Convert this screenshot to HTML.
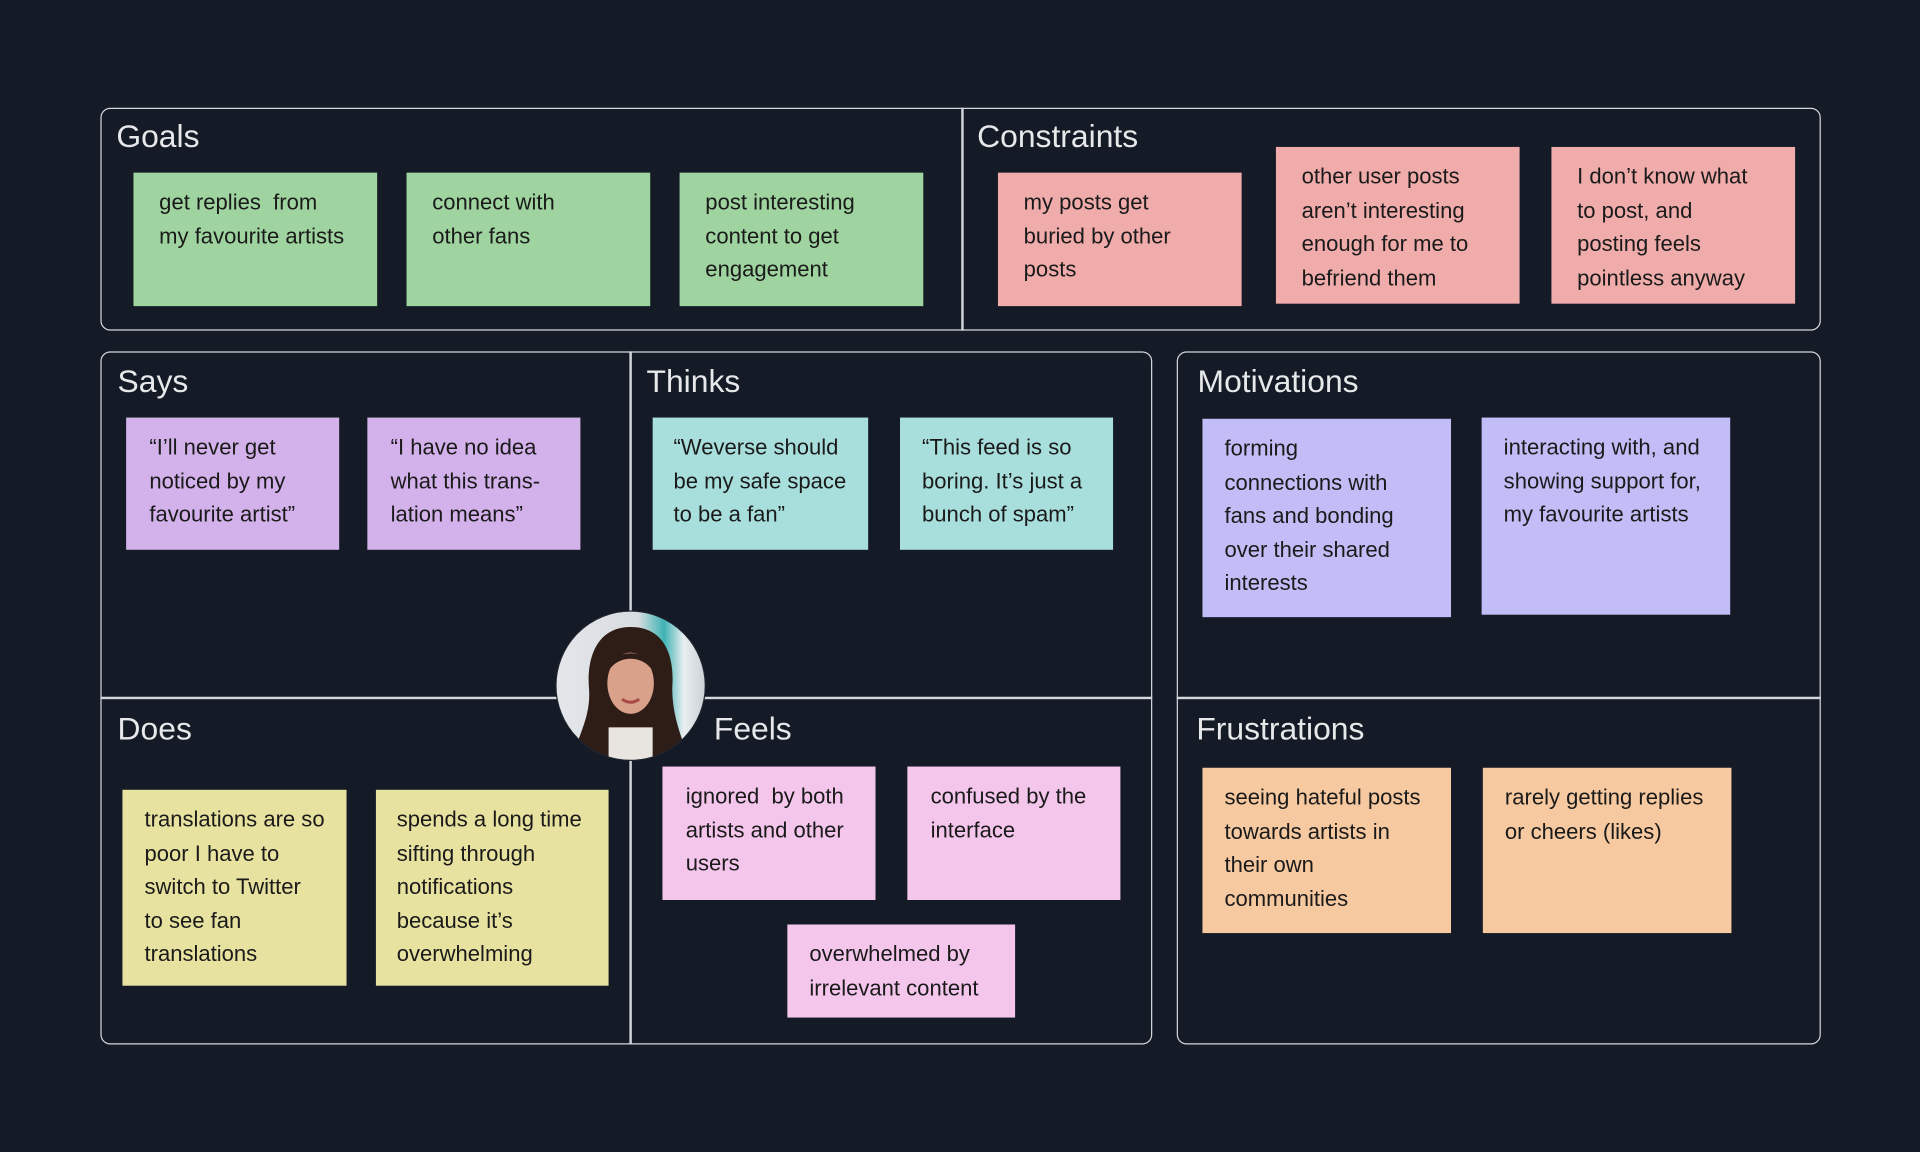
<!DOCTYPE html>
<html><head><meta charset="utf-8"><style>
html,body{margin:0;padding:0;background:#151b26;width:1920px;height:1152px;overflow:hidden}
#w{position:absolute;left:0;top:0;width:1568px;height:941px;transform:scale(1.22449);transform-origin:0 0;font-family:"Liberation Sans",sans-serif}
.b{position:absolute;border:1.5px solid #d3d6da;border-radius:8px;box-sizing:border-box}
.l{position:absolute;background:#d3d6da}
.t{position:absolute;color:#e6e8ea;font-size:26px;line-height:30px}
.s{position:absolute;box-sizing:border-box;padding:11px 0 0 19px;font-size:18px;line-height:27.5px;color:#1a1a1a;white-space:nowrap}
.g{background:#9fd4a0}.r{background:#f0acab}.p{background:#d3b1ea}.c{background:#a8dfdc}.v{background:#c2bdf7}.k{background:#f4c6ec}.y{background:#e8e2a0}.o{background:#f6c9a0}
</style></head><body><div id="w">
<div class="b" style="left:82px;top:88px;width:1405px;height:182px"></div>
<div class="l" style="left:785px;top:88px;width:1.5px;height:182px"></div>
<div class="b" style="left:82px;top:287px;width:859px;height:566px"></div>
<div class="l" style="left:514px;top:287px;width:1.5px;height:566px"></div>
<div class="l" style="left:82px;top:569px;width:859px;height:1.5px"></div>
<div class="b" style="left:961px;top:287px;width:526px;height:566px"></div>
<div class="l" style="left:961px;top:569px;width:526px;height:1.5px"></div>

<div class="t" style="left:95px;top:96px">Goals</div>
<div class="t" style="left:798px;top:96px">Constraints</div>
<div class="t" style="left:96px;top:296px">Says</div>
<div class="t" style="left:528px;top:296px">Thinks</div>
<div class="t" style="left:978px;top:296px">Motivations</div>
<div class="t" style="left:96px;top:580px">Does</div>
<div class="t" style="left:583px;top:580px">Feels</div>
<div class="t" style="left:977px;top:580px">Frustrations</div>

<div class="s g" style="left:109px;top:141px;width:199px;height:109px;padding-left:21px">get replies&nbsp; from<br>my favourite artists</div>
<div class="s g" style="left:332px;top:141px;width:199px;height:109px;padding-left:21px">connect with<br>other fans</div>
<div class="s g" style="left:555px;top:141px;width:199px;height:109px;padding-left:21px">post interesting<br>content to get<br>engagement</div>
<div class="s r" style="left:815px;top:141px;width:199px;height:109px;padding-left:21px">my posts get<br>buried by other<br>posts</div>
<div class="s r" style="left:1042px;top:120px;width:199px;height:128px;padding-left:21px">other user posts<br>aren’t interesting<br>enough for me to<br>befriend them</div>
<div class="s r" style="left:1267px;top:120px;width:199px;height:128px;padding-left:21px">I don’t know what<br>to post, and<br>posting feels<br>pointless anyway</div>

<div class="s p" style="left:103px;top:341px;width:174px;height:108px">“I’ll never get<br>noticed by my<br>favourite artist”</div>
<div class="s p" style="left:300px;top:341px;width:174px;height:108px">“I have no idea<br>what this trans-<br>lation means”</div>
<div class="s c" style="left:533px;top:341px;width:176px;height:108px;padding-left:17px">“Weverse should<br>be my safe space<br>to be a fan”</div>
<div class="s c" style="left:735px;top:341px;width:174px;height:108px;padding-left:18px">“This feed is so<br>boring. It’s just a<br>bunch of spam”</div>

<div class="s v" style="left:982px;top:342px;width:203px;height:162px;padding-left:18px">forming<br>connections with<br>fans and bonding<br>over their shared<br>interests</div>
<div class="s v" style="left:1210px;top:341px;width:203px;height:161px;padding-left:18px">interacting with, and<br>showing support for,<br>my favourite artists</div>

<div class="s y" style="left:100px;top:645px;width:183px;height:160px;padding-left:18px">translations are so<br>poor I have to<br>switch to Twitter<br>to see fan<br>translations</div>
<div class="s y" style="left:307px;top:645px;width:190px;height:160px;padding-left:17px">spends a long time<br>sifting through<br>notifications<br>because it’s<br>overwhelming</div>

<div class="s k" style="left:541px;top:626px;width:174px;height:109px;padding-left:19px">ignored&nbsp; by both<br>artists and other<br>users</div>
<div class="s k" style="left:741px;top:626px;width:174px;height:109px">confused by the<br>interface</div>
<div class="s k" style="left:643px;top:755px;width:186px;height:76px;padding-left:18px">overwhelmed by<br>irrelevant content</div>

<div class="s o" style="left:982px;top:627px;width:203px;height:135px;padding-left:18px">seeing hateful posts<br>towards artists in<br>their own<br>communities</div>
<div class="s o" style="left:1211px;top:627px;width:203px;height:135px;padding-left:18px">rarely getting replies<br>or cheers (likes)</div>

<svg style="position:absolute;left:453px;top:498px" width="124" height="124" viewBox="0 0 124 124">
<defs><clipPath id="cc"><circle cx="62" cy="62" r="61"/></clipPath>
<linearGradient id="bg" x1="0" x2="1"><stop offset="0" stop-color="#e4e6ea"/><stop offset="0.55" stop-color="#d8dde0"/><stop offset="0.72" stop-color="#3fb3b5"/><stop offset="0.85" stop-color="#e9eef0"/><stop offset="1" stop-color="#c9cfd4"/></linearGradient></defs>
<g clip-path="url(#cc)">
<rect width="124" height="124" fill="url(#bg)"/>
<path d="M62 14 C34 14 26 40 28 64 C30 88 18 104 14 124 L110 124 C104 104 96 88 96 64 C98 38 90 14 62 14Z" fill="#2e1c16"/>
<rect x="44" y="96" width="36" height="30" fill="#e8e4e0"/>
<ellipse cx="62" cy="60" rx="19" ry="25" fill="#d9a08a"/>
<path d="M43 52 C44 30 80 30 81 52 C74 36 50 36 43 52Z" fill="#2e1c16"/>
<path d="M55 73 Q62 78 69 73" stroke="#a84a45" stroke-width="2.5" fill="none"/>
</g>
<circle cx="62" cy="62" r="61" fill="none" stroke="#1f2530" stroke-width="1"/>
</svg>
</div></body></html>
